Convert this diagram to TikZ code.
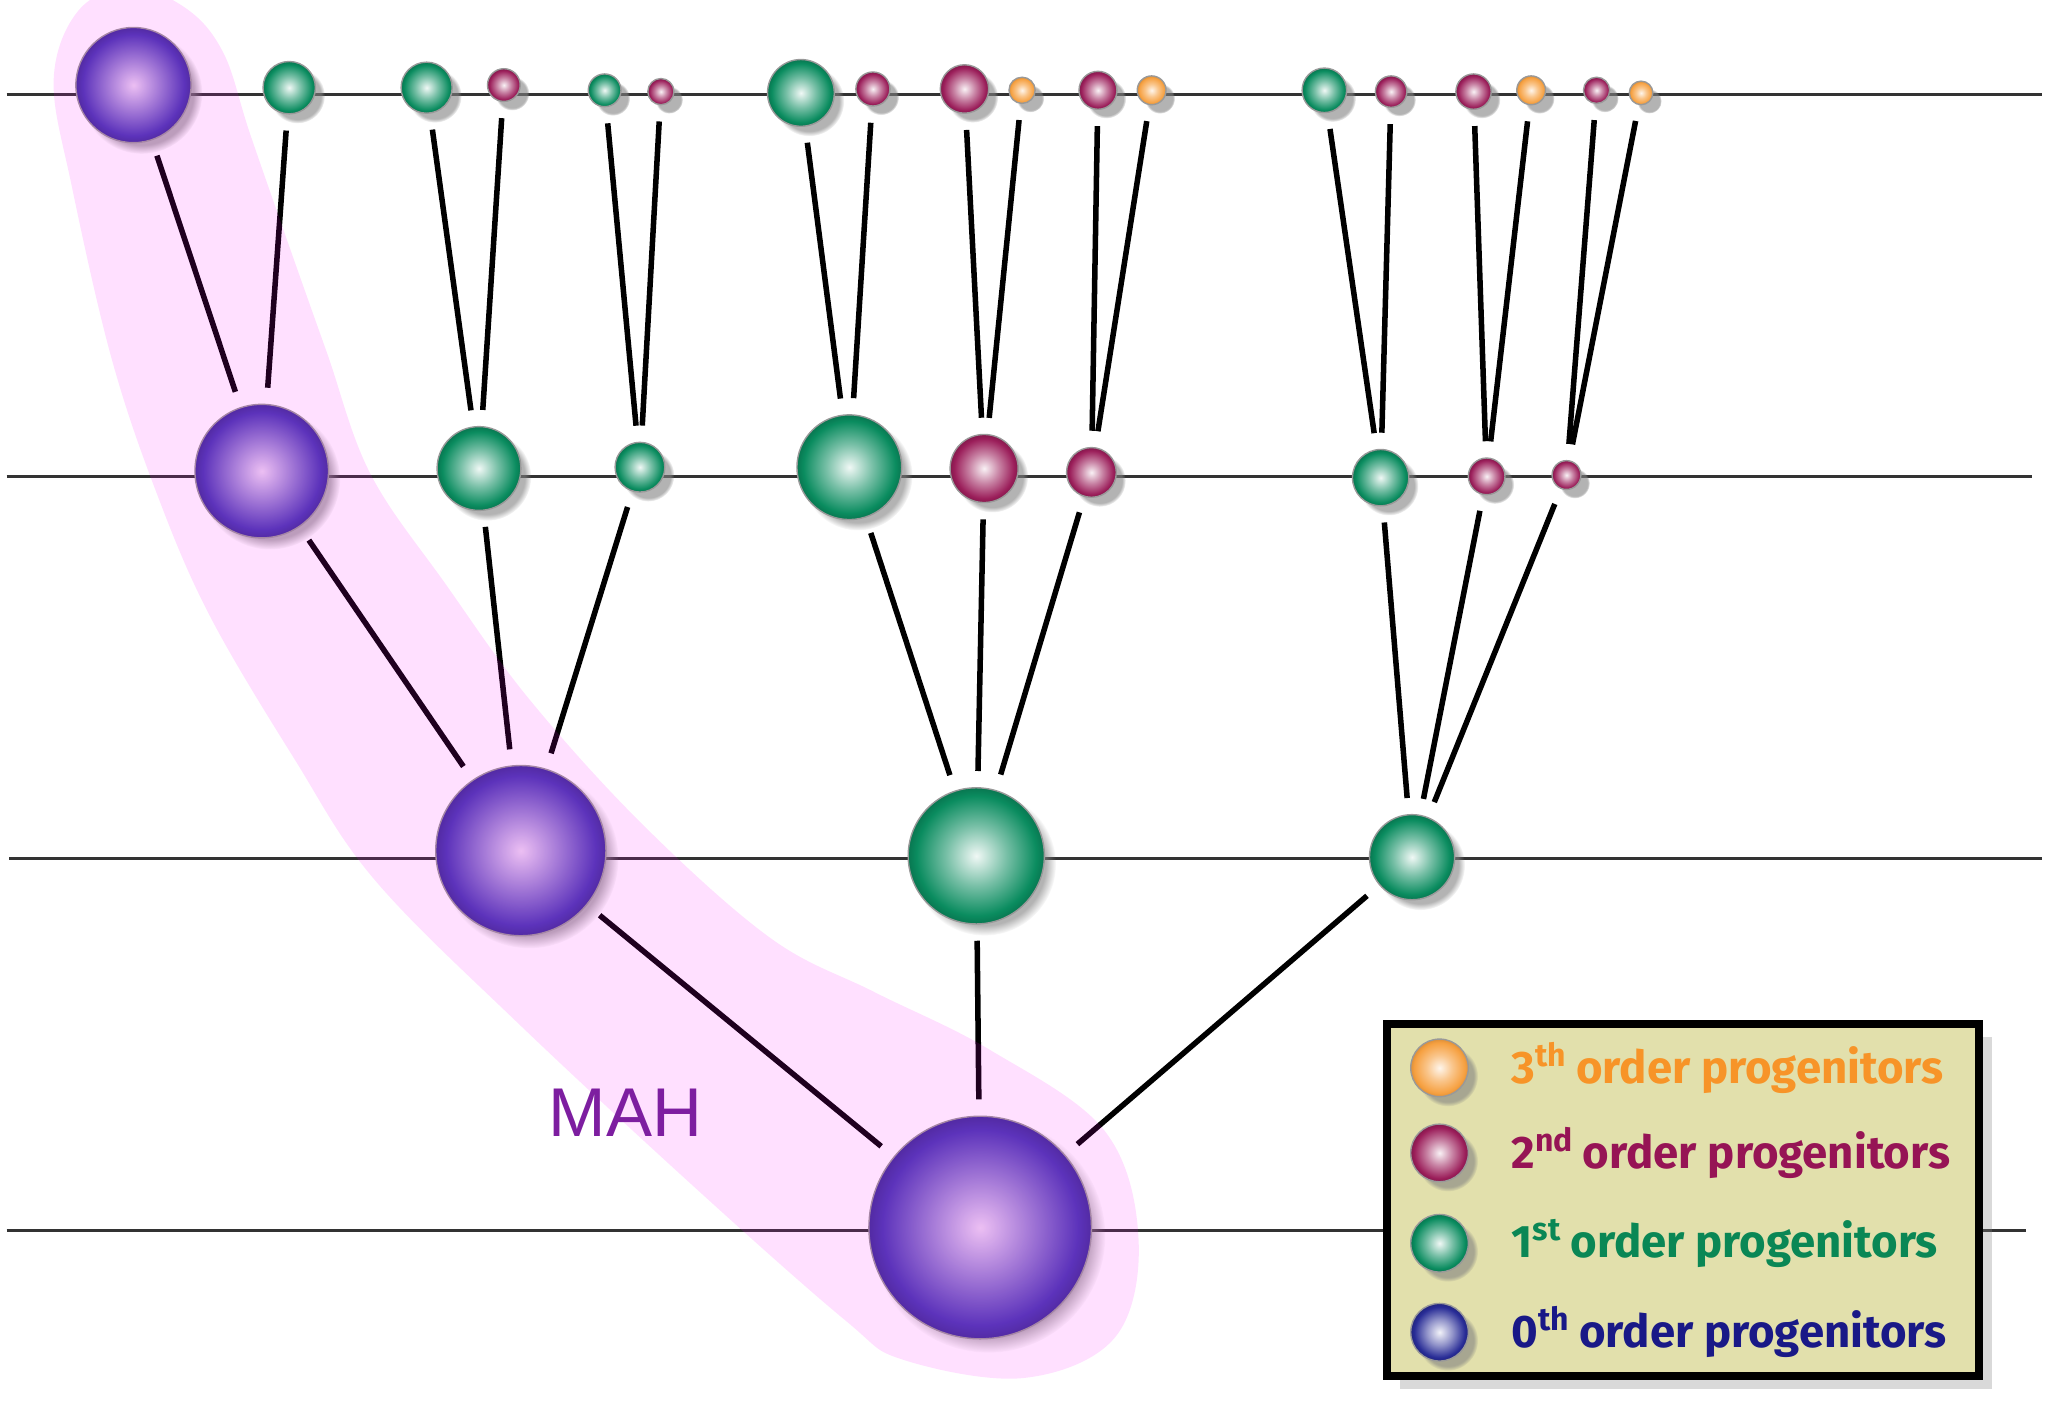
\documentclass[tikz,border=0pt]{standalone}
\usepackage{fontspec}
\setmainfont{Liberation Sans}
\newfontfamily\keyfont{Fira Sans}
\usetikzlibrary{positioning, shadows}

\definecolor{zerocol}{RGB}{70,58,178}
\definecolor{zerolt}{RGB}{234,218,242}
\definecolor{navycol}{RGB}{40,44,150}
\definecolor{firstcol}{RGB}{10,140,95}
\definecolor{secondcol}{RGB}{155,30,90}
\definecolor{thirdcol}{RGB}{246,160,64}
\definecolor{mahcol}{RGB}{125,30,160}
\definecolor{bandcol}{RGB}{255,0,255}
\definecolor{keybg}{RGB}{226,224,172}
\definecolor{keythird}{RGB}{247,148,40}
\definecolor{keysecond}{RGB}{150,20,85}
\definecolor{keyfirst}{RGB}{10,135,85}
\definecolor{keyzero}{RGB}{25,25,135}

\pgfdeclareradialshading{orbzero}{\pgfpointorigin}{color(0bp)=(zerolt); color(11bp)=(zerocol!50!zerolt); color(22bp)=(zerocol); color(25bp)=(zerocol!85!black); color(50bp)=(zerocol!85!black)}
\pgfdeclareradialshading{orbnavy}{\pgfpointorigin}{color(0bp)=(navycol!6); color(11bp)=(navycol!50); color(22bp)=(navycol); color(25bp)=(navycol!85!black); color(50bp)=(navycol!85!black)}
\pgfdeclareradialshading{orbfirst}{\pgfpointorigin}{color(0bp)=(firstcol!6); color(11bp)=(firstcol!55); color(22bp)=(firstcol); color(25bp)=(firstcol!85!black); color(50bp)=(firstcol!85!black)}
\pgfdeclareradialshading{orbsecond}{\pgfpointorigin}{color(0bp)=(secondcol!6); color(11bp)=(secondcol!55); color(22bp)=(secondcol); color(25bp)=(secondcol!85!black); color(50bp)=(secondcol!85!black)}
\pgfdeclareradialshading{orbthird}{\pgfpointorigin}{color(0bp)=(thirdcol!10); color(11bp)=(thirdcol!60); color(22bp)=(thirdcol); color(25bp)=(thirdcol!90!black); color(50bp)=(thirdcol!90!black)}

\begin{document}
\begin{tikzpicture}[x=0.01cm, y=-0.01cm,
  orb/.style={circle, inner sep=0pt, draw=black!40, line width=0.3pt,
    circular drop shadow={shadow xshift=0.6mm, shadow yshift=-0.6mm, opacity=0.6, shadow scale=1.05}},
  zeroth/.style={orb, shading=orbzero},
  navy/.style={orb, shading=orbnavy},
  first/.style={orb, shading=orbfirst},
  second/.style={orb, shading=orbsecond},
  third/.style={orb, shading=orbthird},
  link/.style={line width=1.2pt, shorten <=3.5pt, shorten >=3.5pt},
  level/.style={line width=0.6pt, black!80},
  mahband/.style={fill=bandcol, fill opacity=0.12},
  keytext/.style={inner sep=0pt, font=\keyfont\bfseries\fontsize{9.9}{12}\selectfont}]
\useasboundingbox (0,0) rectangle (1568,1073);

% levels
\draw[level] (5,72) -- (1560,72);
\draw[level] (5,364) -- (1553,364);
\draw[level] (7,656) -- (1560,656);
\draw[level] (5,940) -- (1548,940);

% halos
\node[zeroth, minimum size=17mm] (root) at (749,938) {};
\node[zeroth, minimum size=13mm] (a1) at (398,650) {};
\node[first, minimum size=10.4mm] (a2) at (746,654) {};
\node[first, minimum size=6.5mm] (a3) at (1079,655) {};

\node[zeroth, minimum size=10.2mm] (b1) at (200,360) {};
\node[first, minimum size=6.4mm] (b2) at (366,358) {};
\node[first, minimum size=3.8mm] (b3) at (489,357) {};
\node[first, minimum size=8mm] (b4) at (649,357) {};
\node[second, minimum size=5.2mm] (b5) at (752,358) {};
\node[second, minimum size=3.8mm] (b6) at (834,361) {};
\node[first, minimum size=4.3mm] (b7) at (1055,365) {};
\node[second, minimum size=2.8mm] (b8) at (1136,364) {};
\node[second, minimum size=2.2mm] (b9) at (1197,363) {};

\node[zeroth, minimum size=8.8mm] (c1) at (102,65) {};
\node[first, minimum size=4mm] (c2) at (221,67) {};
\node[first, minimum size=3.9mm] (c3) at (326,67) {};
\node[second, minimum size=2.5mm] (c4) at (385,65) {};
\node[first, minimum size=2.5mm] (c5) at (462,69) {};
\node[second, minimum size=2mm] (c6) at (505,70) {};
\node[first, minimum size=5.1mm] (c7) at (612,71) {};
\node[second, minimum size=2.6mm] (c8) at (667,68) {};
\node[second, minimum size=3.7mm] (c9) at (737,68) {};
\node[third, minimum size=2mm] (c10) at (781,69) {};
\node[second, minimum size=2.9mm] (c11) at (839,69) {};
\node[third, minimum size=2.2mm] (c12) at (880,69) {};
\node[first, minimum size=3.4mm] (c13) at (1012,69) {};
\node[second, minimum size=2.4mm] (c14) at (1063,70) {};
\node[second, minimum size=2.7mm] (c15) at (1126,70) {};
\node[third, minimum size=2.2mm] (c16) at (1170,69) {};
\node[second, minimum size=2mm] (c17) at (1220,69) {};
\node[third, minimum size=1.8mm] (c18) at (1254,71) {};

% merger tree
\draw[link] (root) -- (a1);
\draw[link] (root) -- (a2);
\draw[link] (root) -- (a3);
\draw[link] (a1) -- (b1);
\draw[link] (a1) -- (b2);
\draw[link] (a1) -- (b3);
\draw[link] (a2) -- (b4);
\draw[link] (a2) -- (b5);
\draw[link] (a2) -- (b6);
\draw[link] (a3) -- (b7);
\draw[link] (a3) -- (b8);
\draw[link] (a3) -- (b9);
\draw[link] (b1) -- (c1);
\draw[link] (b1) -- (c2);
\draw[link] (b2) -- (c3);
\draw[link] (b2) -- (c4);
\draw[link] (b3) -- (c5);
\draw[link] (b3) -- (c6);
\draw[link] (b4) -- (c7);
\draw[link] (b4) -- (c8);
\draw[link] (b5) -- (c9);
\draw[link] (b5) -- (c10);
\draw[link] (b6) -- (c11);
\draw[link] (b6) -- (c12);
\draw[link] (b7) -- (c13);
\draw[link] (b7) -- (c14);
\draw[link] (b8) -- (c15);
\draw[link] (b8) -- (c16);
\draw[link] (b9) -- (c17);
\draw[link] (b9) -- (c18);

% main branch
\fill[mahband] plot[smooth cycle, tension=0.6] coordinates {
  (100,-10) (143,7) (171,41) (191,102) (222,191) (250,270) (283,362)
  (341,447) (405,535) (492,631) (589,717) (668,758) (756,802) (844,864)
  (870,947) (852,1022) (782,1053) (690,1039) (646,1009) (536,912)
  (396,782) (286,672) (225,580) (160,470) (119,375) (85,273)
  (55,143) (41,61) (60,8)};
\node[text=mahcol, font=\fontsize{15}{18}\selectfont] (mah) at (478,850) {MAH};

% key
\node[draw, line width=1.6pt, fill=keybg, minimum width=4.52cm, minimum height=2.69cm,
  drop shadow={shadow xshift=1mm, shadow yshift=-1mm, opacity=0.3}] (key) at (1286,917) {};
\node[third, minimum size=4.4mm] (k3) at (1100,816) {};
\node[second, minimum size=4.4mm] (k2) at (1100,881) {};
\node[first, minimum size=4.4mm] (k1) at (1100,950) {};
\node[navy, minimum size=4.4mm] (k0) at (1100,1018) {};
\node[keytext, text=keythird, right=3.2mm of k3] (t3) {3\textsuperscript{th}\,order progenitors};
\node[keytext, text=keysecond, right=3.2mm of k2] (t2) {2\textsuperscript{nd}\,order progenitors};
\node[keytext, text=keyfirst, right=3.2mm of k1] (t1) {1\textsuperscript{st}\,order progenitors};
\node[keytext, text=keyzero, right=3.2mm of k0] (t0) {0\textsuperscript{th}\,order progenitors};
\end{tikzpicture}
\end{document}
